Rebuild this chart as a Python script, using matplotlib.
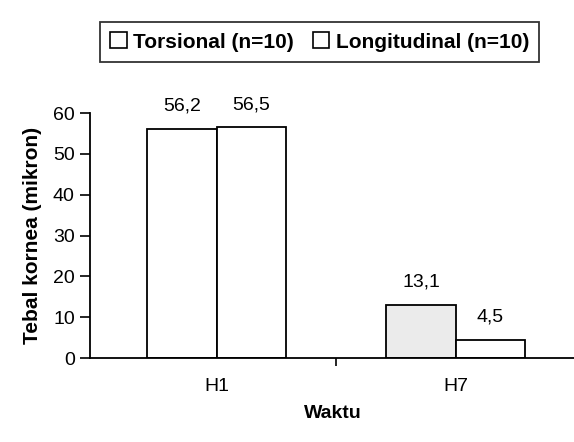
import numpy as np
import matplotlib.pyplot as plt
from matplotlib.patches import Patch

plt.rcParams['font.family'] = ['Liberation Sans', 'DejaVu Sans']

waktu = ['H1', 'H7']
torsional = [56.2, 13.1]
longitudinal = [56.5, 4.5]
series_names = ['Torsional (n=10)', 'Longitudinal (n=10)']

fig = plt.figure(figsize=(5.74, 4.42), dpi=100)
ax = fig.add_axes([0.157, 0.19, 0.845, 0.554])

x = np.arange(len(waktu))
w = 0.29
b1 = ax.bar(x - w / 2, torsional, w, color=['white', '#ebebeb'], edgecolor='black', linewidth=1.3)
b2 = ax.bar(x + w / 2, longitudinal, w, color='white', edgecolor='black', linewidth=1.3)

for bars, vals in ((b1, torsional), (b2, longitudinal)):
    for r, v in zip(bars, vals):
        ax.annotate(f"{v:.1f}".replace('.', ','), (r.get_x() + r.get_width() / 2, v),
                    xytext=(0, 10), textcoords='offset points', ha='center', va='bottom',
                    fontsize=14)

ax.set_ylim(0, 60)
ax.set_xlim(-0.53, 1.5)
ax.set_yticks(range(0, 61, 10))
ax.set_xticks([0.5])
ax.set_xticklabels([''])
ax.tick_params(axis='x', direction='out', length=6, width=1.2)
ax.tick_params(axis='y', direction='out', length=7, width=1.2, labelsize=14, pad=4)
for i, lab in enumerate(waktu):
    ax.text(i, -5, lab, ha='center', va='top', fontsize=14, transform=ax.transData)

for s in ('top', 'right'):
    ax.spines[s].set_visible(False)
for s in ('left', 'bottom'):
    ax.spines[s].set_linewidth(1.3)

ax.set_xlabel('Waktu', fontsize=14, fontweight='bold', labelpad=24)
ax.set_ylabel('Tebal kornea (mikron)', fontsize=15, fontweight='bold', labelpad=8)

handles = [Patch(facecolor='white', edgecolor='black', linewidth=1.2) for _ in series_names]
leg = fig.legend(handles, series_names, loc='center', bbox_to_anchor=(0.557, 0.905), ncol=2,
                 frameon=True, fancybox=False, edgecolor='black',
                 handlelength=0.8, handleheight=0.8, handletextpad=0.3, columnspacing=0.9,
                 borderpad=0.5, prop={'weight': 'bold', 'size': 15})
leg.get_frame().set_linewidth(1.3)

fig.savefig('out.png', dpi=100)
